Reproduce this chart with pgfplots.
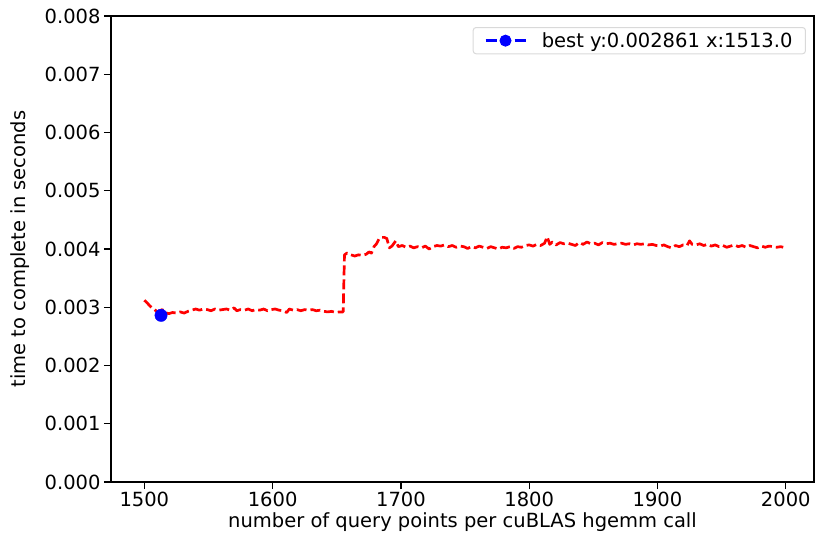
\documentclass[border=0pt]{standalone}
\usepackage{fontspec}
\setmainfont{DejaVu Sans}
\usepackage{pgfplots}
\pgfplotsset{compat=1.18}

\pgfplotstableread{
x y
1500 0.00312
1502 0.00308
1504 0.00303
1506 0.00299
1508 0.00296
1510 0.00292
1512 0.00294
1514 0.00296
1516 0.00291
1519 0.00289
1522 0.00291
1525 0.00290
1528 0.00292
1531 0.00290
1534 0.00293
1537 0.00295
1540 0.00297
1543 0.00295
1546 0.00297
1549 0.00296
1552 0.00294
1555 0.00297
1558 0.00295
1561 0.00296
1564 0.00297
1567 0.00295
1570 0.00299
1572 0.00294
1575 0.00296
1578 0.00295
1581 0.00297
1584 0.00294
1587 0.00296
1590 0.00295
1593 0.00297
1596 0.00294
1599 0.00296
1602 0.00297
1605 0.00295
1608 0.00294
1611 0.00291
1613 0.00297
1616 0.00295
1619 0.00296
1622 0.00294
1625 0.00296
1628 0.00295
1631 0.00296
1634 0.00294
1637 0.00295
1640 0.00293
1643 0.00292
1646 0.00293
1649 0.00291
1652 0.00292
1655 0.00292
1656 0.00390
1658 0.00393
1661 0.00390
1664 0.00388
1667 0.00390
1670 0.00389
1673 0.00391
1675 0.00395
1677 0.00393
1679 0.00404
1681 0.00409
1683 0.00418
1685 0.00420
1687 0.00420
1689 0.00418
1691 0.00402
1693 0.00405
1696 0.00414
1698 0.00404
1701 0.00406
1704 0.00403
1707 0.00405
1710 0.00402
1713 0.00404
1716 0.00402
1719 0.00405
1722 0.00400
1725 0.00404
1728 0.00406
1731 0.00405
1734 0.00407
1737 0.00404
1740 0.00406
1743 0.00403
1746 0.00405
1749 0.00404
1752 0.00401
1755 0.00404
1758 0.00402
1761 0.00405
1764 0.00403
1767 0.00401
1770 0.00404
1773 0.00402
1776 0.00400
1779 0.00403
1782 0.00402
1785 0.00404
1788 0.00401
1791 0.00404
1794 0.00403
1797 0.00406
1800 0.00407
1803 0.00405
1806 0.00408
1809 0.00406
1812 0.00410
1814 0.00421
1816 0.00408
1818 0.00412
1821 0.00407
1824 0.00411
1827 0.00409
1830 0.00410
1833 0.00408
1836 0.00406
1839 0.00411
1842 0.00408
1845 0.00412
1848 0.00409
1851 0.00410
1854 0.00407
1857 0.00411
1860 0.00409
1863 0.00410
1866 0.00408
1869 0.00409
1872 0.00410
1875 0.00408
1878 0.00409
1881 0.00407
1884 0.00409
1887 0.00408
1890 0.00409
1893 0.00407
1896 0.00408
1899 0.00406
1902 0.00405
1905 0.00407
1908 0.00404
1911 0.00402
1914 0.00406
1917 0.00404
1920 0.00407
1923 0.00406
1925 0.00414
1927 0.00408
1930 0.00407
1933 0.00409
1936 0.00406
1939 0.00408
1942 0.00405
1945 0.00407
1948 0.00404
1951 0.00406
1954 0.00403
1957 0.00405
1960 0.00407
1963 0.00404
1966 0.00406
1969 0.00403
1972 0.00406
1975 0.00404
1978 0.00402
1981 0.00405
1984 0.00403
1987 0.00405
1990 0.00404
1993 0.00403
1996 0.00404
1998 0.00403
}\timing

\pgfplotstableread{
x y
1513 0.002861
}\best

\newcommand\chartfont{\fontsize{19.5bp}{23bp}\selectfont}

\begin{document}
\begin{tikzpicture}
\path[use as bounding box] (-111bp,-56bp) rectangle (704bp,482bp);
\begin{axis}[
  at={(0,0)}, anchor=south west,
  scale only axis, width=703bp, height=466bp,
  xmin=1474, xmax=2022,
  ymin=0, ymax=0.008,
  xtick={1500,1600,...,2000},
  ytick={0,0.001,...,0.008},
  scaled y ticks=false,
  axis line style={line width=1.4bp},
  tick style={line width=1.4bp, black},
  tick align=outside,
  major tick length=7bp,
  xtick pos=bottom, ytick pos=left,
  tick label style={font=\chartfont},
  /pgf/number format/assume math mode=true,
  xticklabel style={/pgf/number format/set thousands separator={}},
  yticklabel style={/pgf/number format/.cd, fixed, fixed zerofill, precision=3},
  xlabel={number of query points per cuBLAS hgemm call},
  ylabel={time to complete in seconds},
  every axis x label/.style={at={(axis description cs:0.5,0)}, anchor=center,
    yshift=-40bp, font=\chartfont},
  every axis y label/.style={at={(axis description cs:0,0.5)}, anchor=center,
    rotate=90, yshift=91bp, font=\chartfont},
  legend style={
    at={(rel axis cs:0.9886,0.9764)}, anchor=north east,
    draw=black!15, line width=1bp, rounded corners=3bp,
    fill=white, fill opacity=0.8, text opacity=1, draw opacity=1,
    font=\chartfont, inner xsep=11bp, inner ysep=3bp, column sep=13bp,
  },
  legend cell align=left,
]
\addplot[red, line width=2.7bp, dash pattern=on 10bp off 4bp, line join=round, forget plot]
  table[x=x, y=y] {\timing};
\addplot[blue, only marks, mark=*, mark size=6.2bp,
  legend image code/.code={
    \draw[blue, opacity=1, line width=2.7bp, dash pattern=on 11bp off 18bp] (0bp,0bp) -- (40bp,0bp);
    \fill[blue, fill opacity=1] (20bp,0bp) circle (5.5bp);
  }]
  table[x=x, y=y] {\best};
\addlegendentry{best y:0.002861 x:1513.0}
\end{axis}
\end{tikzpicture}
\end{document}
